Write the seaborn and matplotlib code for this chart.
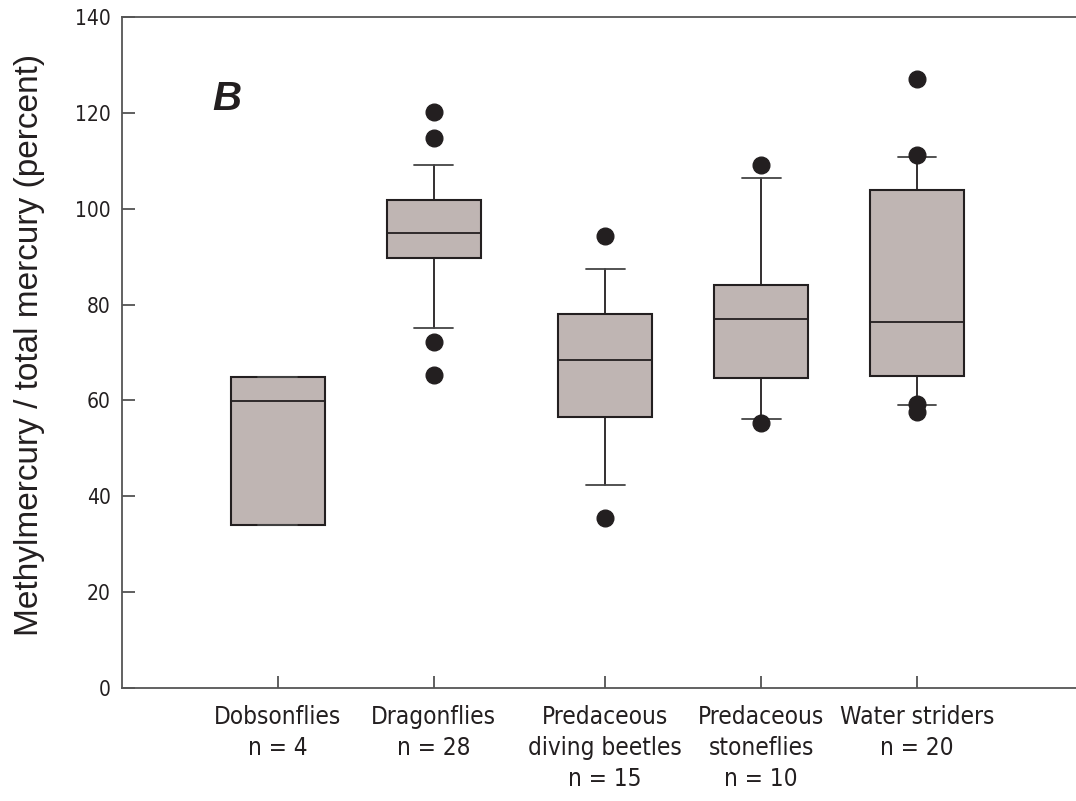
import matplotlib
matplotlib.use("Agg")
import matplotlib.pyplot as plt
import seaborn as sns

categories = ["Dobsonflies\nn = 4", "Dragonflies\nn = 28", "Predaceous\ndiving beetles\nn = 15",
              "Predaceous\nstoneflies\nn = 10", "Water striders\nn = 20"]
q1 = [34.0, 89.7, 56.6, 64.6, 65.0]
median = [59.8, 94.9, 68.4, 77.0, 76.4]
q3 = [64.8, 101.7, 78.0, 84.1, 103.9]
whisker_low = [34.0, 75.0, 42.3, 56.2, 59.0]
whisker_high = [64.8, 109.0, 87.5, 106.4, 110.7]
outliers = [[], [120.2, 114.7, 72.1, 65.3], [94.3, 35.6], [109.0, 55.4], [127.1, 111.2, 59.3, 57.5]]
yticks = [0, 20, 40, 60, 80, 100, 120, 140]

sns.set_theme(style="ticks")
plt.rcParams["font.family"] = ["DejaVu Sans"]
plt.rcParams["font.stretch"] = "condensed"

fig = plt.figure(figsize=(10.76, 8.01), dpi=100)
ax = fig.add_axes([0.1134, 0.1407, 0.8866, 0.8385])

stats = []
for i, lab in enumerate(categories):
    stats.append(dict(label=lab, q1=q1[i], med=median[i], q3=q3[i],
                      whislo=whisker_low[i], whishi=whisker_high[i], fliers=outliers[i]))

positions = [0, 1, 2.1, 3.1, 4.1]
line_col = "#231f20"
ax.bxp(stats, positions=positions, widths=0.6, patch_artist=True, showfliers=True,
       boxprops=dict(facecolor="#bfb5b3", edgecolor=line_col, linewidth=1.5),
       medianprops=dict(color=line_col, linewidth=1.3),
       whiskerprops=dict(color=line_col, linewidth=1.3),
       capprops=dict(color="#444444", linewidth=1.3),
       capwidths=0.25,
       flierprops=dict(marker="o", markerfacecolor=line_col, markeredgecolor=line_col,
                       markersize=12, linestyle="none"))

ax.set_xlim(-1.0, 5.12)
ax.set_ylim(0, 140)
ax.set_yticks(yticks)
ax.set_yticklabels([str(v) for v in yticks], fontsize=15, fontstretch="condensed")
ax.set_xticks(positions)
ax.set_xticklabels(categories, fontsize=17.5, color="#231f20", linespacing=1.38,
                   fontstretch="condensed")
ax.tick_params(axis="both", direction="in", length=9, width=1.2, color="#444444")
ax.tick_params(axis="y", pad=8, labelcolor="#231f20")
ax.tick_params(axis="x", pad=12)

for side in ["left", "bottom", "top"]:
    ax.spines[side].set_color("#555555")
    ax.spines[side].set_linewidth(1.3)
ax.spines["right"].set_visible(False)

ax.set_ylabel("Methylmercury / total mercury (percent)", fontsize=24,
              family=["Liberation Sans", "DejaVu Sans"], fontstretch="normal",
              color="#231f20")
ax.yaxis.set_label_coords(-0.081, 0.511)

ax.text(-0.42, 120.6, "B", fontsize=29, fontweight="bold", fontstyle="italic",
        family=["Liberation Sans", "DejaVu Sans"], fontstretch="normal",
        color="#231f20", ha="left", va="baseline")

fig.savefig("out.png", dpi=100)
